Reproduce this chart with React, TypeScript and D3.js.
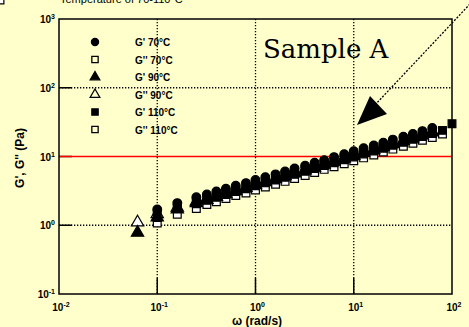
import React from "react";
import * as d3 from "d3";

// frequency sweeps (rad/s)
const omega = [0.1, 0.16, 0.25, 0.32, 0.4, 0.5, 0.63, 0.8, 1, 1.26, 1.6, 2, 2.5, 3.2, 4, 5, 6.3, 8, 10, 12.6, 16, 20, 25, 32, 40, 50, 63];
const omega90 = [0.063, 0.1, 0.16, 0.25, 0.32, 0.4, 0.5, 0.63, 0.8, 1, 1.26, 1.6, 2, 2.5, 3.2, 4, 5, 6.3, 8, 10, 12.6, 16, 20, 25, 32, 40, 50, 63];
const omega110 = [0.1, 0.16, 0.25, 0.32, 0.4, 0.5, 0.63, 0.8, 1, 1.26, 1.6, 2, 2.5, 3.2, 4, 5, 6.3, 8, 10, 12.6, 16, 20, 25, 32, 40, 50, 63, 80, 100];

// moduli (Pa)
const gp70 = [1.7, 2.1, 2.55, 2.8, 3.1, 3.4, 3.75, 4.1, 4.55, 5.0, 5.5, 6.05, 6.7, 7.35, 8.1, 8.85, 9.8, 10.8, 11.9, 13.2, 14.5, 15.9, 17.6, 19.4, 21.3, 23.4, 25.9];
const gpp70 = [1.4, 1.75, 2.15, 2.4, 2.6, 2.9, 3.2, 3.5, 3.85, 4.25, 4.7, 5.15, 5.65, 6.3, 6.9, 7.6, 8.3, 9.2, 10.1, 11.2, 12.3, 13.5, 15, 16.5, 18.2, 20, 22];
const gp90 = [0.78, 1.3, 1.7, 2.1, 2.35, 2.6, 2.85, 3.15, 3.5, 3.85, 4.25, 4.7, 5.2, 5.7, 6.3, 6.9, 7.6, 8.4, 9.3, 10.2, 11.3, 12.4, 13.7, 15.1, 16.7, 18.4, 20.3, 22.4];
const gpp90 = [1.1, 1.45, 1.8, 2.2, 2.45, 2.7, 2.95, 3.25, 3.6, 3.95, 4.35, 4.8, 5.3, 5.85, 6.45, 7.1, 7.8, 8.6, 9.5, 10.4, 11.5, 12.7, 14, 15.5, 17.1, 18.9, 20.8, 23];
const gp110 = [1.3, 1.75, 2.05, 2.3, 2.55, 2.8, 3.1, 3.4, 3.75, 4.15, 4.55, 5.0, 5.5, 6.1, 6.7, 7.4, 8.1, 8.95, 9.85, 10.9, 12, 13.2, 14.6, 16.1, 17.8, 19.6, 21.6, 24, 30];
const gpp110 = [1.08, 1.45, 1.75, 2.0, 2.2, 2.45, 2.7, 2.95, 3.25, 3.6, 3.95, 4.35, 4.8, 5.3, 5.85, 6.5, 7.1, 7.85, 8.65, 9.55, 10.5, 11.6, 12.8, 14.1, 15.6, 17.2, 18.9, 21.2];

const legendLabels = ["G' 70°C", "G'' 70°C", "G' 90°C", "G'' 90°C", "G' 110°C", "G'' 110°C"];
const xTickExp = [-2, -1, 0, 1, 2];
const yTickExp = [3, 2, 1, 0, -1];

const BG = "#ffffcc";
const SANS = "Liberation Sans, Arial, sans-serif";

const series = [
  { w: omega, g: gp70, shape: d3.symbolCircle, filled: true },
  { w: omega, g: gpp70, shape: d3.symbolSquare, filled: false },
  { w: omega90, g: gp90, shape: d3.symbolTriangle, filled: true },
  { w: omega90, g: gpp90, shape: d3.symbolTriangle, filled: false },
  { w: omega110, g: gp110, shape: d3.symbolSquare, filled: true },
  { w: omega110, g: gpp110, shape: d3.symbolSquare, filled: false },
];

const Pow = ({ x, y, exp, anchor }: { x: number; y: number; exp: number; anchor: string }) => (
  <text x={x} y={y} textAnchor={anchor} fontSize={10} fontWeight="bold" fontFamily={SANS}>
    10<tspan dy={-4} fontSize={7}>{exp}</tspan>
  </text>
);

export default function App() {
  const width = 469;
  const height = 327;
  const x = d3.scaleLog().domain([0.01, 100]).range([59, 452]);
  const y = d3.scaleLog().domain([0.1, 1000]).range([294, 19]);
  const sym = (shape: any, size: number) => d3.symbol().type(shape).size(size)() as string;

  // open markers underneath, filled on top
  const drawOrder = [1, 3, 5, 0, 2, 4];

  return (
    <svg width={width} height={height} style={{ position: "absolute", left: 0, top: 0, background: BG }}>
      <rect width={width} height={height} fill={BG} />
      <text x={60} y={3} fontSize={11} fontFamily={SANS}>
        Temperature of 70-110°C
      </text>

      {/* dotted grid */}
      {xTickExp.slice(1, -1).map((e) => (
        <line key={"gx" + e} x1={x(10 ** e)} x2={x(10 ** e)} y1={y(1000)} y2={y(0.1)}
          stroke="#000" strokeWidth={1.3} strokeDasharray="1.3,1.7" />
      ))}
      {[2, 0].map((e) => (
        <line key={"gy" + e} x1={x(0.01)} x2={x(100)} y1={y(10 ** e)} y2={y(10 ** e)}
          stroke="#000" strokeWidth={1.3} strokeDasharray="1.3,1.7" />
      ))}

      {/* ticks */}
      {xTickExp.slice(1, -1).map((e) => (
        <line key={"tx" + e} x1={x(10 ** e)} x2={x(10 ** e)} y1={y(0.1)} y2={y(0.1) - 16} stroke="#000" strokeWidth={1.5} />
      ))}
      {yTickExp.slice(1, -1).map((e) => (
        <line key={"ty" + e} x1={x(0.01)} x2={x(0.01) + 13} y1={y(10 ** e)} y2={y(10 ** e)} stroke="#000" strokeWidth={1.5} />
      ))}

      {/* red reference line */}
      <line x1={x(0.01)} x2={x(100)} y1={y(10)} y2={y(10)} stroke="#ff0000" strokeWidth={1.6} />

      {/* data */}
      {drawOrder.map((i) => {
        const s = series[i];
        return (
          <g key={"s" + i}>
            {s.w.map((w, j) => (
              <path key={j} d={sym(s.shape, s.shape === d3.symbolTriangle ? 66 : 60)} transform={`translate(${x(w)},${y(s.g[j])})`}
                fill={s.filled ? "#000" : "#fff"} stroke="#000" strokeWidth={1.2} />
            ))}
          </g>
        );
      })}

      {/* frame */}
      <rect x={x(0.01)} y={y(1000)} width={x(100) - x(0.01)} height={y(0.1) - y(1000)} fill="none" stroke="#000" strokeWidth={1.5} />

      {/* tick labels */}
      {xTickExp.map((e) => (
        <Pow key={"lx" + e} x={x(10 ** e) + 2} y={311} exp={e} anchor="middle" />
      ))}
      {yTickExp.map((e) => (
        <Pow key={"ly" + e} x={55} y={y(10 ** e) + 4} exp={e} anchor="end" />
      ))}

      {/* legend */}
      {series.map((s, i) => (
        <g key={"lg" + i} transform={`translate(0,${42 + i * 17.5})`}>
          <path d={sym(s.shape, 40)} transform="translate(95,0)" fill={s.filled ? "#000" : BG} stroke="#000" strokeWidth={1.3} />
          <text x={135} y={4} fontSize={10} fontWeight="bold" fontFamily={SANS}>
            {legendLabels[i]}
          </text>
        </g>
      ))}

      <text x={263} y={58} fontSize={26} fontFamily="DejaVu Serif, serif">Sample A</text>

      {/* arrow */}
      <line x1={470} y1={4} x2={374} y2={106} stroke="#000" strokeWidth={1.3} strokeDasharray="2,1.5" />
      <path d="M357,125 L370,96 L387,114 Z" fill="#000" />

      {/* axis titles */}
      <text x={257} y={325} textAnchor="middle" fontSize={12} fontWeight="bold" fontFamily={SANS}>
        ω (rad/s)
      </text>
      <text transform="translate(24,158) rotate(-90)" textAnchor="middle" fontSize={12} fontWeight="bold" fontFamily={SANS}>
        G', G'' (Pa)
      </text>
    </svg>
  );
}
